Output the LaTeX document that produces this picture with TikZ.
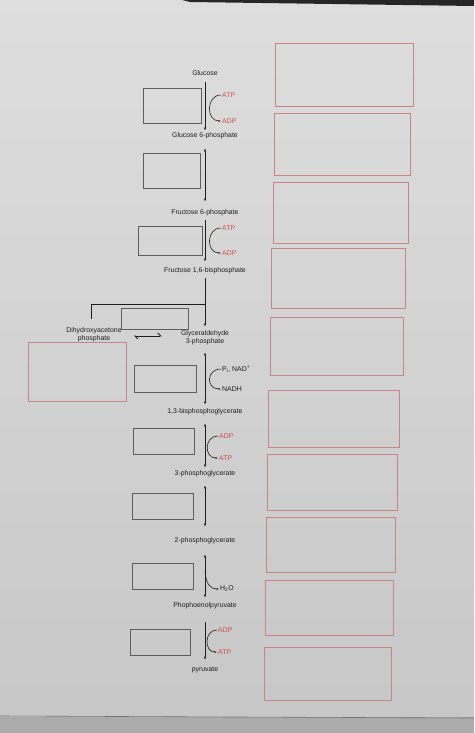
\documentclass[tikz,border=0pt]{standalone}
\usepackage{fontspec}
\setmainfont{Liberation Sans}
\usetikzlibrary{positioning}
\usetikzlibrary{calc}
\usetikzlibrary{arrows.meta}
\definecolor{ink}{HTML}{1E1E1E}
\definecolor{cofred}{HTML}{CF4E4E}
\definecolor{boxred}{HTML}{C98585}
\definecolor{boxgray}{HTML}{5E5E5E}
\tikzset{
	x=1pt, y=-1pt,
	metab/.style = {font=\fontsize{6.9}{8}\selectfont, text=ink, align=center, inner sep=1pt},
	cof/.style = {metab, anchor=west, text=cofred},
	cofblack/.style = {metab, anchor=west},
	blank/.style = {draw=boxgray, line width=0.8pt, anchor=north west, inner sep=0pt},
	answer/.style = {draw=boxred, line width=0.8pt, anchor=north west, inner sep=0pt},
	rxn/.style = {draw=ink, line width=1pt, -{Latex[length=3pt,width=2.4pt]}},
	rev/.style = {draw=ink, line width=1pt, {Latex[length=3pt,width=2.4pt]}-{Latex[length=3pt,width=2.4pt]}},
	side/.style = {draw=ink, line width=0.6pt, -{Latex[length=2.5pt,width=2pt]}},
	harp/.style = {draw=ink, line width=0.9pt, {Straight Barb[harpoon,length=3pt]}-{Straight Barb[harpoon,length=3pt]}}
}

\begin{document}
\begin{tikzpicture}
	% Paper
	\useasboundingbox (0,0) rectangle (474,733);
	\shade[top color=black!13, bottom color=black!22] (0,0) rectangle (474,733);
	\fill[black!85] (182,0) -- (474,0) -- (474,6) -- (190,2) -- cycle;
	\fill[black!33] (0,717) rectangle (474,733);
	\draw[black!55, line width=0.6pt] (0,716) -- (474,718);

	% Metabolites
	\node (glc) [metab] at (205,73) {Glucose};
	\node (g6p) [metab] at (205,136) {Glucose 6-phosphate};
	\node (f6p) [metab] at (205,213) {Fructose 6-phosphate};
	\node (fbp) [metab] at (205,271) {Fructose 1,6-bisphosphate};
	\node (gap) [metab] at (205,338) {Glyceraldehyde\\3-phosphate};
	\node (dhap) [metab] at (94,335) {Dihydroxyacetone\\phosphate};
	\node (bpg) [metab] at (205,412) {1,3-bisphosphoglycerate};
	\node (pg3) [metab] at (205,474) {3-phosphoglycerate};
	\node (pg2) [metab] at (205,541) {2-phosphoglycerate};
	\node (pep) [metab] at (205,606) {Phophoenolpyruvate};
	\node (pyr) [metab] at (205,670) {pyruvate};

	% Cofactors
	\node (atp1) [cof] at (221,95) {ATP};
	\node (adp1) [cof] at (221,121) {ADP};
	\node (atp2) [cof] at (221,228) {ATP};
	\node (adp2) [cof] at (221,253) {ADP};
	\node (nad) [cofblack] at (221,369) {P\textsubscript{i}, NAD\textsuperscript{+}};
	\node (nadh) [cofblack] at (221,389) {NADH};
	\node (adp3) [cof] at (218,436) {ADP};
	\node (atp3) [cof] at (218,458) {ATP};
	\node (h2o) [cofblack] at (219,589) {H\textsubscript{2}O};
	\node (adp4) [cof] at (217,630) {ADP};
	\node (atp4) [cof] at (217,652) {ATP};

	% Steps
	\draw[rxn, shorten <=5pt, shorten >=1pt] (glc) -- (g6p);
	\draw[rev, shorten <=8pt, shorten >=7pt] (g6p) -- (f6p);
	\draw[rxn, shorten <=3pt, shorten >=5pt] (f6p) -- (fbp);
	\draw[rxn, shorten <=3pt, shorten >=3pt] (fbp) -- (gap);
	\draw[rev, shorten <=6pt, shorten >=3pt] (gap) -- (bpg);
	\draw[rev, shorten <=7pt, shorten >=2pt] (bpg) -- (pg3);
	\draw[rev, shorten <=7pt, shorten >=10pt] (pg3) -- (pg2);
	\draw[rev, shorten <=9pt, shorten >=4pt] (pg2) -- (pep);
	\draw[rxn, shorten <=12pt, shorten >=6pt] (pep) -- (pyr);

	% Aldolase split
	\coordinate (split) at (205,304);
	\coordinate (dhapend) at (91,319);
	\draw[draw=ink, line width=0.8pt] (split) -| (dhapend);
	\draw[harp] ($(dhap.east)+(11,1)$) -- ($(dhap.east)+(39,1)$);

	% Side arrows
	\draw[side] (atp1.west) .. controls +(-15,0) and +(-15,0) .. (adp1.west);
	\draw[side] (atp2.west) .. controls +(-15,0) and +(-15,0) .. (adp2.west);
	\draw[side] (nad.west) .. controls +(-15,0) and +(-15,0) .. (nadh.west);
	\draw[side] (adp3.west) .. controls +(-14,0) and +(-14,0) .. (atp3.west);
	\draw[side] (adp4.west) .. controls +(-13,0) and +(-13,0) .. (atp4.west);
	\coordinate (h2ofrom) at (205,571);
	\draw[side] (h2ofrom) .. controls (206,585) and (211,589) .. (h2o.west);

	% Enzyme boxes
	\foreach \n/\x/\y/\w/\h in {e1/143/88/58/35, e2/143/153/57/35, e3/138/226/64/29,
		e4/121/308/67/21, e5/134/365/62/27, e6/133/428/61/26, e7/132/493/61/26,
		e8/132/563/61/26, e9/130/629/60/26}
		\node (\n) [blank, minimum width=\w pt, minimum height=\h pt] at (\x,\y) {};

	% Answer boxes
	\foreach \x/\y/\w/\h [count=\i] in {275/43/138/63, 274/113/136/62, 273/182/135/61,
		271/248/134/60, 270/317/133/58, 268/390/131/57, 267/454/130/56,
		266/517/129/55, 265/580/128/55, 264/647/127/53}
		\node (r\i) [answer, minimum width=\w pt, minimum height=\h pt] at (\x,\y) {};
	\node (rdhap) [answer, minimum width=98pt, minimum height=59pt] at (28,342) {};
\end{tikzpicture}
\end{document}
